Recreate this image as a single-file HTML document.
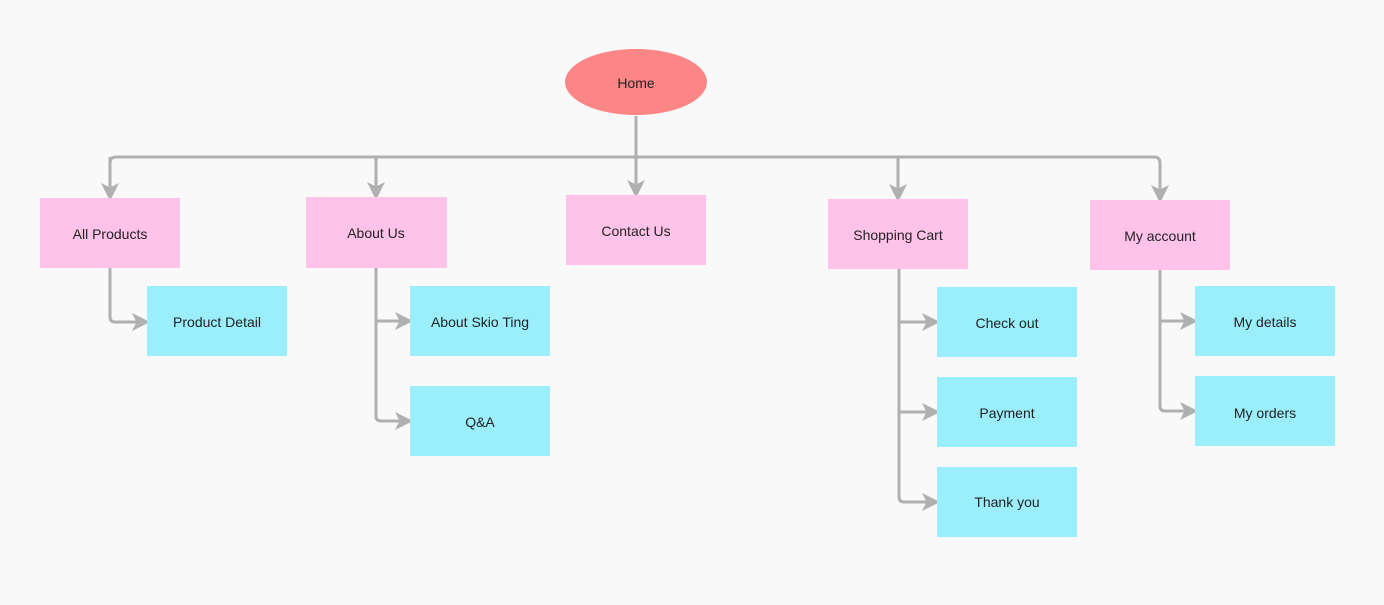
<!DOCTYPE html>
<html><head><style>
body{margin:0;background:#f9f9f9;}
svg{display:block;font-family:"Liberation Sans",sans-serif;}
</style></head><body>
<svg width="1384" height="605" viewBox="0 0 1384 605">
<defs>
<marker id="a" markerWidth="6" markerHeight="6" refX="5" refY="3" orient="auto" markerUnits="strokeWidth">
<path d="M0,0 L6,3 L0,6 L1.5,3 Z" fill="#b0b0b0"/>
</marker>
</defs>
<rect width="1384" height="605" fill="#f9f9f9"/>
<g fill="none" stroke="#b0b0b0" stroke-width="3">
<path d="M636,116 V195" marker-end="url(#a)"/>
<path d="M110,198 V163 Q110,157 116,157 H1154 Q1160,157 1160,163 V200" marker-end="url(#a)"/>
<path d="M110,157 V198" marker-end="url(#a)"/>
<path d="M376,157 V197" marker-end="url(#a)"/>
<path d="M898,157 V199" marker-end="url(#a)"/>
<path d="M110,268 V317 Q110,322 115,322 H147" marker-end="url(#a)"/>
<path d="M376,268 V416 Q376,421 381,421 H410" marker-end="url(#a)"/>
<path d="M376,321 H410" marker-end="url(#a)"/>
<path d="M899,269 V497 Q899,502 904,502 H937" marker-end="url(#a)"/>
<path d="M899,322 H937" marker-end="url(#a)"/>
<path d="M899,412 H937" marker-end="url(#a)"/>
<path d="M1160,270 V406 Q1160,411 1165,411 H1195" marker-end="url(#a)"/>
<path d="M1160,321 H1195" marker-end="url(#a)"/>
</g>
<ellipse cx="636" cy="82" rx="71" ry="33" fill="#fc8585"/>
<g fill="#ffc2e8">
<rect x="40" y="198" width="140" height="70"/>
<rect x="306" y="197" width="141" height="71"/>
<rect x="566" y="195" width="140" height="70"/>
<rect x="828" y="199" width="140" height="70"/>
<rect x="1090" y="200" width="140" height="70"/>
</g>
<g fill="#9beefc">
<rect x="147" y="286" width="140" height="70"/>
<rect x="410" y="286" width="140" height="70"/>
<rect x="410" y="386" width="140" height="70"/>
<rect x="937" y="287" width="140" height="70"/>
<rect x="937" y="377" width="140" height="70"/>
<rect x="937" y="467" width="140" height="70"/>
<rect x="1195" y="286" width="140" height="70"/>
<rect x="1195" y="376" width="140" height="70"/>
</g>
<g font-size="14" fill="#222" text-anchor="middle">
<text x="636" y="88">Home</text>
<text x="110" y="239">All Products</text>
<text x="376" y="238">About Us</text>
<text x="636" y="236">Contact Us</text>
<text x="898" y="240">Shopping Cart</text>
<text x="1160" y="241">My account</text>
<text x="217" y="327">Product Detail</text>
<text x="480" y="327">About Skio Ting</text>
<text x="480" y="427">Q&amp;A</text>
<text x="1007" y="328">Check out</text>
<text x="1007" y="418">Payment</text>
<text x="1007" y="507">Thank you</text>
<text x="1265" y="327">My details</text>
<text x="1265" y="418">My orders</text>
</g>
</svg>
</body></html>
